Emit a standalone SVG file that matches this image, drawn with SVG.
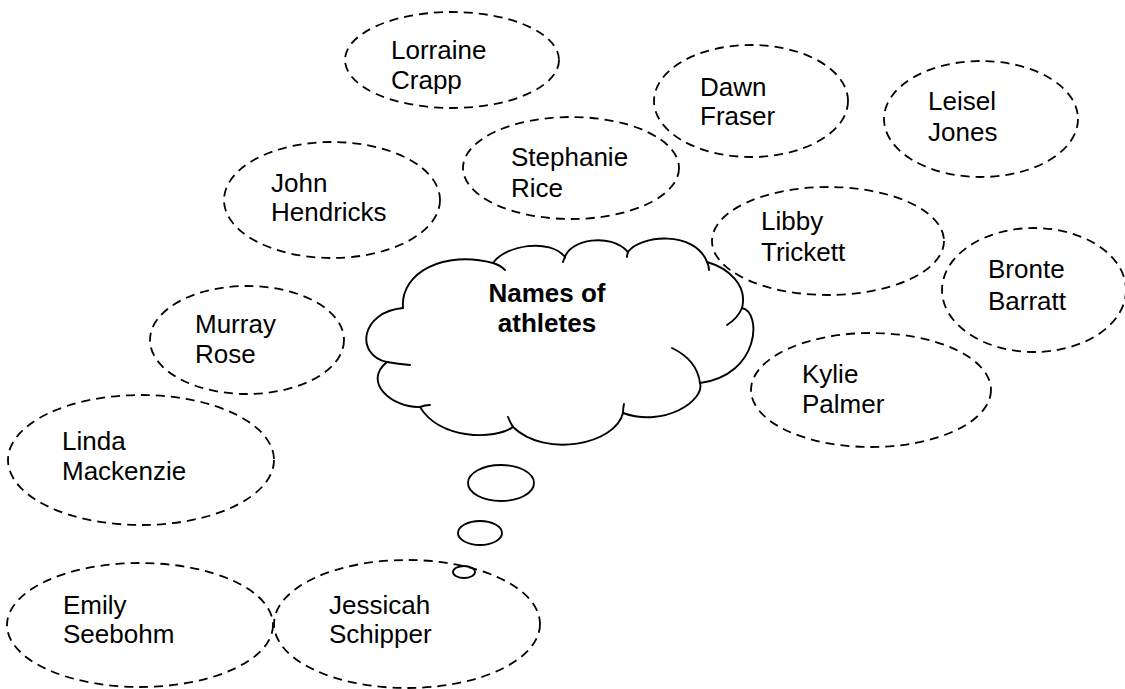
<svg xmlns="http://www.w3.org/2000/svg" width="1125" height="689" viewBox="0 0 1125 689">
  <style>
    .name { fill: none; stroke: #000; stroke-width: 1.8; stroke-dasharray: 9 6; }
    .cloud { fill: none; stroke: #000; stroke-width: 1.9; stroke-linecap: round; }
    .label { font-family: "Liberation Sans", Arial, sans-serif; font-size: 26px; fill: #000; }
    .title { font-family: "Liberation Sans", Arial, sans-serif; font-size: 26px; font-weight: bold; fill: #000; text-anchor: middle; }
  </style>
  <rect width="1125" height="689" fill="#fff"/>

  <!-- central thought cloud -->
  <g id="cloud">
    <path class="cloud" d="M403,308 C400,272 445,250 493,263
      C505,245 550,238 565,257
      C570,240 610,232 628,252
      C640,235 695,230 707,262
      C728,268 748,285 742,308
      C762,312 760,375 700,383
      C705,400 665,428 623,413
      C615,445 545,458 513,427
      C495,440 440,440 420,407
      C392,408 362,382 387,362
      C355,355 360,312 403,308 Z"/>
    <!-- inner lobe tails -->
    <path class="cloud" d="M493,263 Q500,265 505,270"/>
    <path class="cloud" d="M565,257 Q564,259 563,262"/>
    <path class="cloud" d="M628,252 Q627,255 627,257"/>
    <path class="cloud" d="M707,262 Q709,266 709,270"/>
    <path class="cloud" d="M742,308 Q738,318 727,325"/>
    <path class="cloud" d="M672,348 Q697,360 700,383"/>
    <path class="cloud" d="M623,413 Q623,408 624,404"/>
    <path class="cloud" d="M513,427 Q510,422 508,417"/>
    <path class="cloud" d="M420,407 Q425,405 430,405"/>
    <path class="cloud" d="M387,362 Q398,364 410,365"/>
    <text class="title" x="547" y="302">Names of</text>
    <text class="title" x="547" y="332">athletes</text>
  </g>

  <!-- thought bubbles -->
  <g id="bubbles">
    <ellipse class="cloud" cx="501" cy="483" rx="33" ry="18"/>
    <ellipse class="cloud" cx="480" cy="533" rx="22" ry="12"/>
    <ellipse class="cloud" cx="464" cy="572" rx="11" ry="6"/>
  </g>

  <g id="lorraine-crapp">
    <ellipse class="name" cx="452" cy="60" rx="107" ry="48"/>
    <text class="label" x="391" y="59">Lorraine</text>
    <text class="label" x="391" y="89">Crapp</text>
  </g>
  <g id="dawn-fraser">
    <ellipse class="name" cx="751" cy="101" rx="97" ry="56"/>
    <text class="label" x="700" y="96">Dawn</text>
    <text class="label" x="700" y="125">Fraser</text>
  </g>
  <g id="leisel-jones">
    <ellipse class="name" cx="981" cy="119" rx="97" ry="58"/>
    <text class="label" x="928" y="110">Leisel</text>
    <text class="label" x="928" y="141">Jones</text>
  </g>
  <g id="stephanie-rice">
    <ellipse class="name" cx="571" cy="168" rx="108" ry="51"/>
    <text class="label" x="511" y="166">Stephanie</text>
    <text class="label" x="511" y="197">Rice</text>
  </g>
  <g id="john-hendricks">
    <ellipse class="name" cx="332" cy="200" rx="108" ry="58"/>
    <text class="label" x="271" y="192">John</text>
    <text class="label" x="271" y="221">Hendricks</text>
  </g>
  <g id="libby-trickett">
    <ellipse class="name" cx="828" cy="241" rx="116" ry="54"/>
    <text class="label" x="761" y="230">Libby</text>
    <text class="label" x="761" y="261">Trickett</text>
  </g>
  <g id="bronte-barratt">
    <ellipse class="name" cx="1034" cy="290" rx="92" ry="62"/>
    <text class="label" x="988" y="278">Bronte</text>
    <text class="label" x="988" y="310">Barratt</text>
  </g>
  <g id="murray-rose">
    <ellipse class="name" cx="247" cy="340" rx="97" ry="54"/>
    <text class="label" x="195" y="333">Murray</text>
    <text class="label" x="195" y="363">Rose</text>
  </g>
  <g id="kylie-palmer">
    <ellipse class="name" cx="871" cy="390" rx="120" ry="57"/>
    <text class="label" x="802" y="383">Kylie</text>
    <text class="label" x="802" y="413">Palmer</text>
  </g>
  <g id="linda-mackenzie">
    <ellipse class="name" cx="141" cy="460" rx="133" ry="65"/>
    <text class="label" x="62" y="450">Linda</text>
    <text class="label" x="62" y="480">Mackenzie</text>
  </g>
  <g id="emily-seebohm">
    <ellipse class="name" cx="140" cy="625" rx="133" ry="62"/>
    <text class="label" x="63" y="614">Emily</text>
    <text class="label" x="63" y="643">Seebohm</text>
  </g>
  <g id="jessicah-schipper">
    <ellipse class="name" cx="407" cy="624" rx="133" ry="64"/>
    <text class="label" x="329" y="614">Jessicah</text>
    <text class="label" x="329" y="643">Schipper</text>
  </g>
</svg>
